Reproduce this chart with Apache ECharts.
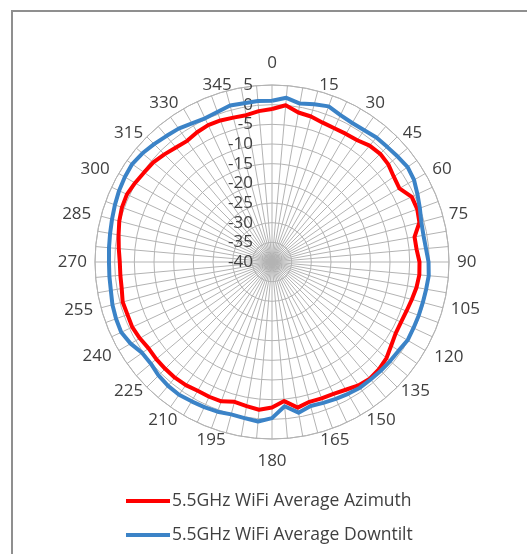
<!DOCTYPE html>
<html>
<head>
<meta charset="utf-8">
<title>5.5GHz WiFi Radiation Pattern</title>
<script src="https://cdn.jsdelivr.net/npm/echarts@6/dist/echarts.min.js"></script>
<style>
  html, body { margin: 0; padding: 0; background: #ffffff; }
  #wrap { position: relative; width: 527px; height: 554px; overflow: hidden; background: #fff; }
  #frame { position: absolute; left: 11px; top: 10px; width: 600px; height: 600px;
           border-left: 2px solid #8f8f8f; border-top: 2px solid #8f8f8f; box-sizing: border-box; }
  #chart { position: absolute; left: 0; top: 0; width: 527px; height: 554px; }
</style>
</head>
<body>
<div id="wrap">
  <div id="frame"></div>
  <div id="chart"></div>
</div>
<script>
// Bearing of each sample, degrees clockwise from 0 (top)
const angles = [
  0, 5, 10, 15, 20, 25, 30, 35, 40, 45, 50, 55,
  60, 65, 70, 75, 80, 85, 90, 95, 100, 105, 110, 115,
  120, 125, 130, 135, 140, 145, 150, 155, 160, 165, 170, 175,
  180, 185, 190, 195, 200, 205, 210, 215, 220, 225, 230, 235,
  240, 245, 250, 255, 260, 265, 270, 275, 280, 285, 290, 295,
  300, 305, 310, 315, 320, 325, 330, 335, 340, 345, 350, 355
];

// Average azimuth gain (dB)
const azimuth = [
  -1.1, 0.0, -1.4, -1.7, -2.3, -2.5, -2.4, -2.2, -1.4, -1.1, -1.4, -2.2,
  -2.6, -0.8, -0.7, -1.2, -3.2, -3.1, -2.5, -2.4, -2.7, -3.2, -3.6, -3.8,
  -3.7, -3.0, -2.0, -1.5, -1.3, -1.7, -2.5, -3.0, -3.1, -3.2, -2.4, -4.5,
  -3.0, -2.3, -2.8, -3.2, -2.3, -2.2, -2.2, -1.8, -1.6, -1.6, -1.6, -1.7,
  -1.2, -0.8, -0.9, -0.7, -1.2, -1.3, -1.3, -0.9, -0.4, 0.2, 0.6, 0.7,
  0.2, -0.3, -0.6, -1.3, -2.0, -2.4, -1.9, -1.6, -1.7, -2.0, -2.1, -1.5
];

// Average downtilt gain (dB)
const downtilt = [
  1.0, 1.9, 0.9, 1.5, 2.1, 1.2, 0.8, 0.9, 1.3, 1.4, 1.7, 2.1,
  1.7, 0.8, 0.0, -0.7, -0.9, -0.7, -0.2, 0.0, -0.2, -0.3, -0.3, -0.3,
  -0.2, -0.7, -0.8, -0.9, -1.0, -1.0, -1.3, -1.6, -1.9, -2.1, -1.1, -3.2,
  -0.3, 0.7, 0.3, 0.1, 0.5, 0.7, 0.9, 1.2, 1.1, 0.8, 0.2, 0.3,
  1.5, 2.3, 2.2, 2.0, 1.6, 1.5, 1.45, 1.6, 1.8, 2.1, 2.5, 2.9,
  3.2, 3.4, 3.0, 2.4, 1.8, 1.4, 0.7, 0.3, 0.6, 1.2, 1.0, 1.1
];

// Radial scale (dB) and labelled bearings
const radialMin = -40;
const radialMax = 5;
const radialStep = 5;
const bearingLabelStep = 15;

const seriesNames = ['5.5GHz WiFi Average Azimuth', '5.5GHz WiFi Average Downtilt'];
const seriesColors = ['#ff0000', '#3b83c7'];

// Small per-label nudges [dx, dy] so bearing labels sit snugly around the ring
const labelNudge = {
  0: [0, -5], 15: [9, 10], 30: [1, 10], 45: [0, 10], 60: [0, 8], 75: [-2, 0],
  90: [0, 0], 105: [0, -1], 120: [2, -6], 135: [-2, -10], 150: [2, -11], 165: [15, -9],
  180: [0, 6], 195: [-13, -9], 210: [-2, -11], 225: [2, -10], 240: [0, -7], 255: [0, 0],
  270: [0, 0], 285: [-2, 0], 300: [-2, 8], 315: [2, 10], 330: [-1, 10], 345: [-7, 10]
};

const R = 177;
const LABEL_MARGIN = 8;

// Convert a nudge into text padding, following how the polar angle axis aligns its labels
function nudgePadding(deg, dx, dy) {
  const t = deg * Math.PI / 180;
  const k = (R + LABEL_MARGIN) / R;
  const sx = Math.sin(t) * k, cy = Math.cos(t) * k;
  const pad = [0, 0, 0, 0]; // top, right, bottom, left
  if (Math.abs(sx) < 0.3) {
    if (dx > 0) pad[3] = 2 * dx; else pad[1] = -2 * dx;
  } else if (sx > 0) {
    pad[3] = dx;
  } else {
    pad[1] = -dx;
  }
  if (Math.abs(cy) < 0.3) {
    if (dy > 0) pad[0] = 2 * dy; else pad[2] = -2 * dy;
  } else if (cy > 0) {
    pad[2] = -dy;
  } else {
    pad[0] = dy;
  }
  return pad;
}

const FONT = '"Open Sans", "Liberation Sans", sans-serif';
const labelRich = {};
Object.keys(labelNudge).forEach(function (key) {
  const d = labelNudge[key];
  labelRich['a' + key] = {
    color: '#404040', fontSize: 17, fontFamily: FONT,
    padding: nudgePadding(Number(key), d[0], d[1])
  };
});

function loop(values) {
  const pts = angles.map((a, i) => [values[i], a]);
  pts.push([values[0], 360]);
  return pts;
}

const chart = echarts.init(document.getElementById('chart'), null, { renderer: 'canvas' });
const GRID = '#b3b3b3';

chart.setOption({
  backgroundColor: 'transparent',
  animation: false,
  polar: { center: [272, 262], radius: R },
  angleAxis: {
    type: 'value',
    min: 0,
    max: 360,
    interval: 5,
    startAngle: 90,
    clockwise: true,
    axisLine: { show: true, lineStyle: { color: GRID, width: 1 } },
    axisTick: { show: false },
    splitLine: { show: true, lineStyle: { color: GRID, width: 1 } },
    axisLabel: {
      show: true,
      margin: LABEL_MARGIN,
      color: '#404040',
      fontSize: 17,
      fontFamily: FONT,
      rich: labelRich,
      formatter: function (v) {
        if (v >= 360 || v % bearingLabelStep !== 0) return '';
        return '{a' + v + '|' + v + '}';
      }
    }
  },
  radiusAxis: {
    type: 'value',
    min: radialMin,
    max: radialMax,
    interval: radialStep,
    axisLine: { show: false },
    axisTick: { show: false },
    splitLine: { show: true, lineStyle: { color: GRID, width: 1 } },
    axisLabel: {
      show: true,
      color: '#404040',
      fontSize: 17,
      fontFamily: FONT,
      margin: 19
    },
    z: 5
  },
  legend: {
    orient: 'vertical',
    left: 121,
    top: 487,
    itemWidth: 44,
    itemHeight: 4,
    itemGap: 16,
    icon: 'rect',
    textStyle: { color: '#404040', fontSize: 17.5, fontFamily: FONT, padding: [0, 0, 0, -3] },
    data: seriesNames
  },
  series: seriesNames.map((name, k) => ({
    name: name,
    type: 'line',
    coordinateSystem: 'polar',
    showSymbol: false,
    symbol: 'none',
    smooth: false,
    data: loop(k === 0 ? azimuth : downtilt),
    lineStyle: { color: seriesColors[k], width: 4, join: 'round' },
    itemStyle: { color: seriesColors[k] },
    z: 10
  }))
});
</script>
</body>
</html>
